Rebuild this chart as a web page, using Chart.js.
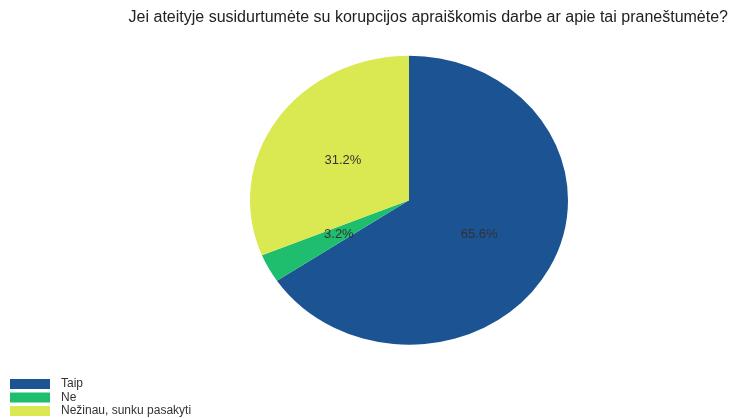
<!DOCTYPE html>
<html>
<head>
<meta charset="utf-8">
<script src="https://cdn.jsdelivr.net/npm/chart.js@4"></script>
<style>
html,body{margin:0;padding:0;background:#fff;}
#wrap{width:732px;height:418px;position:relative;}
</style>
</head>
<body>
<div id="wrap"><canvas id="c" width="732" height="418"></canvas></div>
<script>
const titleText = 'Jei ateityje susidurtumėte su korupcijos apraiškomis darbe ar apie tai praneštumėte?';
const categories = ['Taip', 'Ne', 'Nežinau, sunku pasakyti'];
const values = [65.6, 3.2, 31.2];
const colors = ['#1B5393', '#1FBE6E', '#DAE952'];

const Y_SCALE = 144.5 / 159;

const ellipsePlugin = {
  id: 'ellipse',
  beforeDatasetsDraw(chart) {
    const meta = chart.getDatasetMeta(0);
    const arc = meta.data[0];
    const ctx = chart.ctx;
    ctx.save();
    ctx.translate(arc.x, arc.y);
    ctx.scale(1, Y_SCALE);
    ctx.translate(-arc.x, -arc.y);
  },
  afterDatasetsDraw(chart) {
    const ctx = chart.ctx;
    ctx.restore();
    const meta = chart.getDatasetMeta(0);
    ctx.save();
    ctx.font = '13px "Liberation Sans", Arial, sans-serif';
    ctx.fillStyle = '#333333';
    ctx.textAlign = 'center';
    ctx.textBaseline = 'middle';
    meta.data.forEach((arc, i) => {
      const mid = (arc.startAngle + arc.endAngle) / 2;
      const r = arc.outerRadius / 2;
      const x = arc.x + Math.cos(mid) * r;
      const y = arc.y + Math.sin(mid) * r * Y_SCALE;
      ctx.fillText(values[i].toFixed(1) + '%', x, y);
    });
    ctx.restore();
  }
};

const legendPlugin = {
  id: 'vlegend',
  afterDraw(chart) {
    const ctx = chart.ctx;
    const ds = chart.data.datasets[0];
    ctx.save();
    ctx.font = '12px "Liberation Sans", Arial, sans-serif';
    ctx.textBaseline = 'middle';
    ctx.textAlign = 'left';
    chart.data.labels.forEach((lab, i) => {
      const top = 379 + i * 13.5;
      ctx.fillStyle = ds.backgroundColor[i];
      ctx.fillRect(10, top, 40, 10);
      ctx.fillStyle = '#333333';
      ctx.fillText(lab, 61, top + 5);
    });
    ctx.restore();
  }
};

new Chart(document.getElementById('c'), {
  type: 'pie',
  data: {
    labels: categories,
    datasets: [{
      data: values,
      backgroundColor: colors,
      borderWidth: 0,
      radius: 159
    }]
  },
  options: {
    responsive: false,
    animation: false,
    events: [],
    layout: { padding: { left: 90, right: 4, top: 0, bottom: 55 } },
    plugins: {
      legend: { display: false },
      tooltip: { enabled: false },
      title: {
        display: true,
        text: titleText,
        align: 'end',
        color: '#222222',
        font: { family: '"Liberation Sans", Arial, sans-serif', size: 16, weight: 'normal' },
        padding: { top: 8.4, bottom: 10 }
      }
    }
  },
  plugins: [ellipsePlugin, legendPlugin]
});
</script>
</body>
</html>
